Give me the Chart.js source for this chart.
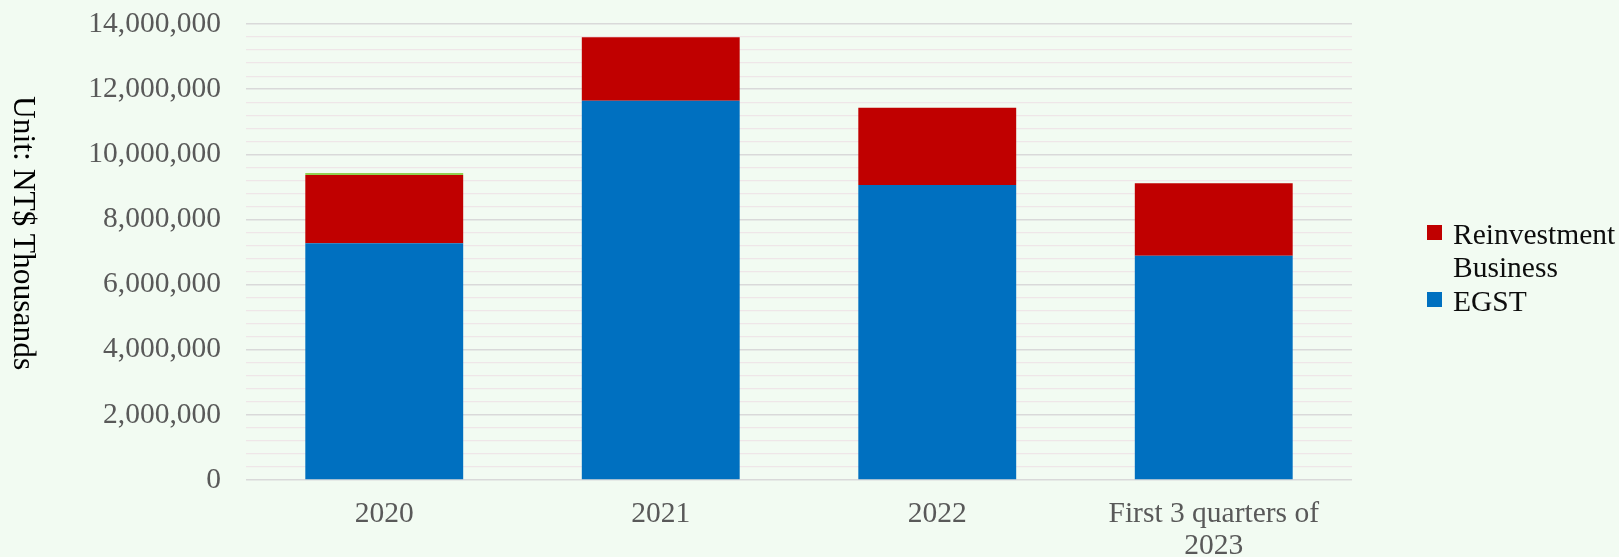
<!DOCTYPE html>
<html>
<head>
<meta charset="utf-8">
<script src="https://cdn.jsdelivr.net/npm/chart.js@4"></script>
<style>
  html, body { margin: 0; padding: 0; background: #F2FBF2; }
  #wrap { position: relative; width: 1619px; height: 557px; background: #F2FBF2; overflow: hidden; }
  #c { position: absolute; left: 0; top: 0; }
  .ytitle { position: absolute; left: 6px; top: 96px; writing-mode: vertical-rl; font-family: "Liberation Serif", "Times New Roman", serif; font-size: 31.5px; line-height: 36px; color: #000; white-space: nowrap; }
  .lg { position: absolute; font-family: "Liberation Serif", "Times New Roman", serif; font-size: 29.5px; line-height: 33px; color: #0d0d0d; white-space: nowrap; }
  .sw { position: absolute; width: 15px; height: 15px; }
</style>
</head>
<body>
<div id="wrap">
  <canvas id="c" width="1619" height="557"></canvas>
  <div class="ytitle" id="ytitle"></div>
  <div class="sw" id="sw1" style="left:1427px; top:225px;"></div>
  <div class="lg" id="lg1" style="left:1453px; top:218px;"></div>
  <div class="sw" id="sw2" style="left:1427px; top:292px;"></div>
  <div class="lg" id="lg2" style="left:1453px; top:285px;"></div>
</div>
<script>
// ---- data ----
const categories = ["2020", "2021", "2022", ["First 3 quarters of", "2023"]];
const egst = [7267000, 11645000, 9057000, 6887000];
const reinvestment = [2097000, 1947000, 2373000, 2223000];
const other = [60000, 0, 0, 0];
const seriesNames = ["EGST", "Reinvestment Business", "Other"];
const seriesColors = ["#0070C0", "#C00000", "#92D050"];
const yAxisTitle = "Unit: NT$ Thousands";
const yMin = 0, yMax = 14000000, yMajorStep = 2000000, yMinorStep = 400000;

// ---- HTML text (title + legend) ----
document.getElementById('ytitle').textContent = yAxisTitle;
document.getElementById('sw1').style.background = seriesColors[1];
document.getElementById('lg1').innerHTML = "Reinvestment<br>Business";
document.getElementById('sw2').style.background = seriesColors[0];
document.getElementById('lg2').textContent = seriesNames[0];

const serif = "'Liberation Serif', 'Times New Roman', serif";

new Chart(document.getElementById('c'), {
  type: 'bar',
  data: {
    labels: categories,
    datasets: [
      { label: seriesNames[0], data: egst, backgroundColor: seriesColors[0] },
      { label: seriesNames[1], data: reinvestment, backgroundColor: seriesColors[1] },
      { label: seriesNames[2], data: other, backgroundColor: seriesColors[2] }
    ]
  },
  options: {
    responsive: false,
    animation: false,
    layout: { padding: { left: 0, top: 24, right: 267, bottom: 0 } },
    datasets: { bar: { categoryPercentage: 1.0, barPercentage: 0.571, borderWidth: 0 } },
    plugins: { legend: { display: false }, tooltip: { enabled: false } },
    scales: {
      x: {
        stacked: true,
        grid: { display: false, drawTicks: false },
        border: { display: false },
        ticks: { color: '#595959', font: { family: serif, size: 29.5, lineHeight: 1.1 }, padding: 18, maxRotation: 0, autoSkip: false },
        afterFit: (s) => { s.height = 77; s.paddingLeft = 0; s.paddingRight = 0; }
      },
      y: {
        stacked: true,
        min: yMin, max: yMax,
        border: { display: false },
        grid: {
          drawTicks: false,
          color: (ctx) => (ctx.tick && ctx.tick.value % yMajorStep === 0) ? '#D9D9D9' : '#EFE6E8',
          lineWidth: (ctx) => (ctx.tick && ctx.tick.value % yMajorStep === 0) ? 1.5 : 1.2
        },
        ticks: {
          stepSize: yMinorStep,
          autoSkip: false,
          color: '#595959',
          padding: 25,
          font: { family: serif, size: 29.5 },
          callback: (v) => (v % yMajorStep === 0) ? v.toLocaleString('en-US') : ''
        },
        afterFit: (s) => { s.width = 246; s.paddingTop = 0; s.paddingBottom = 0; }
      }
    }
  }
});
</script>
</body>
</html>
